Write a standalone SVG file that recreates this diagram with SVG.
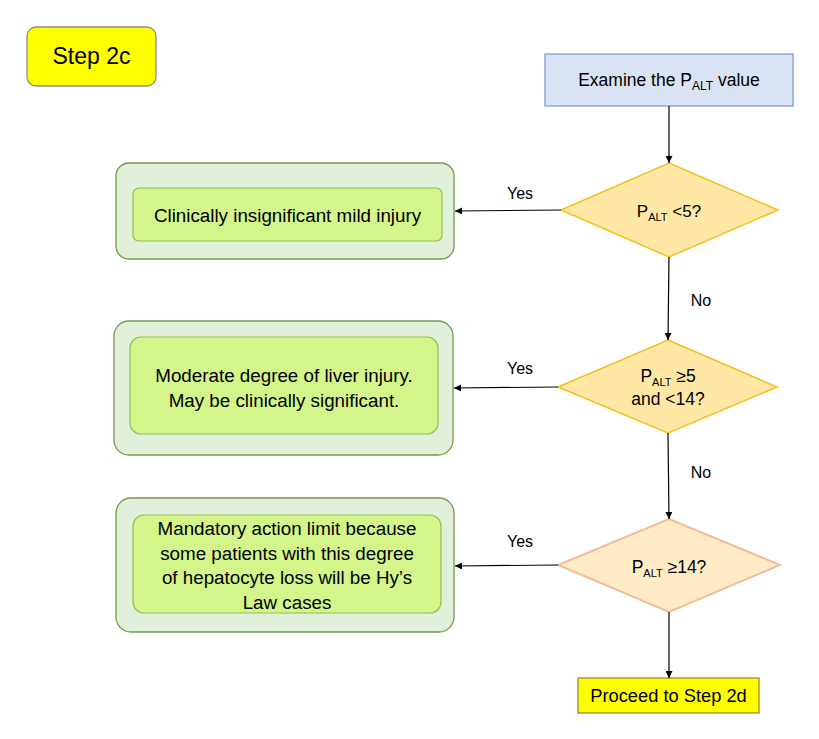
<svg xmlns="http://www.w3.org/2000/svg" width="819" height="739" viewBox="0 0 819 739">
<style>
text{font-family:"Liberation Sans",Arial,sans-serif;font-size:16px;fill:#000}
.c{text-anchor:middle}
.g{font-size:18.8px}
.sub{font-size:11px}
.outer{fill:#E2EFDA;stroke:#6E9E4A;stroke-width:1.3}
.inner{fill:#D3F58A;stroke:#8CC152;stroke-width:1.2}
.dia{fill:#FFE8A6;stroke:#F5BE1E;stroke-width:1.5}
.dia3{fill:#FFEBC6;stroke:#F4BB98;stroke-width:2}
.ln{stroke:#000;stroke-width:1.2;fill:none;marker-end:url(#ah)}
</style>
<defs>
<marker id="ah" viewBox="0 0 10 10" refX="10" refY="5" markerWidth="7" markerHeight="7" markerUnits="userSpaceOnUse" orient="auto"><path d="M0,0 L10,5 L0,10 z" fill="#000"/></marker>
</defs>
<rect width="819" height="739" fill="#fff"/>
<g id="step2c"><rect x="27" y="27" width="129" height="59" rx="9" fill="#FFFF00" stroke="#8C8C8C" stroke-width="1.3"/><text x="91.5" y="64" class="c" style="font-size:23px">Step 2c</text></g>
<g id="examine"><rect x="545" y="54" width="248" height="52" fill="#DAE3F3" stroke="#7F9BCB" stroke-width="1.3"/><text x="669" y="86" class="c" style="font-size:17.5px">Examine the P<tspan style="font-size:12px" dy="4">ALT</tspan><tspan dy="-4"> value</tspan></text></g>
<g id="d1"><polygon class="dia" points="669,163 778,210 669,257 561,210"/><text x="669" y="217" class="c" style="font-size:17px">P<tspan class="sub" dy="4">ALT</tspan><tspan dy="-4"> &lt;5?</tspan></text></g>
<g id="d2"><polygon class="dia" points="668,340 777,387 668,433 558,387"/><text x="668" y="382" class="c" style="font-size:17.5px">P<tspan class="sub" dy="4">ALT</tspan><tspan dy="-4"> ≥5</tspan></text><text x="668" y="405" class="c" style="font-size:17.5px">and &lt;14?</text></g>
<g id="d3"><polygon class="dia3" points="669,519 780,565 669,612 558,565"/><text x="669" y="573" class="c" style="font-size:17.5px">P<tspan class="sub" dy="4">ALT</tspan><tspan dy="-4"> ≥14?</tspan></text></g>
<g id="r1"><rect class="outer" x="116" y="163" width="338" height="96" rx="13"/><rect class="inner" x="133" y="188" width="309" height="53" rx="6"/><text x="287.5" y="221.5" class="c g">Clinically insignificant mild injury</text></g>
<g id="r2"><rect class="outer" x="114" y="321" width="339" height="134" rx="15"/><rect class="inner" x="130" y="337" width="308" height="97" rx="11"/><text x="284" y="382" class="c g">Moderate degree of liver injury.</text><text x="284" y="407" class="c g">May be clinically significant.</text></g>
<g id="r3"><rect class="outer" x="116" y="498" width="338" height="134" rx="15"/><rect class="inner" x="133" y="515" width="308" height="98" rx="11"/><text x="287" y="535" class="c g">Mandatory action limit because</text><text x="287" y="559.5" class="c g">some patients with this degree</text><text x="287" y="584" class="c g">of hepatocyte loss will be Hy’s</text><text x="287" y="608.5" class="c g">Law cases</text></g>
<g id="proceed"><rect x="578" y="678" width="181" height="35" fill="#FFFF00" stroke="#A6892A" stroke-width="1.3"/><text x="668.5" y="702" class="c" style="font-size:18.3px">Proceed to Step 2d</text></g>
<g id="connectors">
<line class="ln" x1="669" y1="106" x2="669" y2="163"/>
<line class="ln" x1="669" y1="257" x2="668" y2="340"/>
<line class="ln" x1="668" y1="433" x2="669" y2="519"/>
<line class="ln" x1="669" y1="612" x2="669" y2="678"/>
<line class="ln" x1="561" y1="210" x2="455" y2="211"/>
<line class="ln" x1="558" y1="387" x2="454" y2="388"/>
<line class="ln" x1="558" y1="565" x2="455" y2="566"/>
<text x="520" y="199" class="c">Yes</text>
<text x="520" y="374" class="c">Yes</text>
<text x="520" y="547" class="c">Yes</text>
<text x="701" y="306" class="c">No</text>
<text x="701" y="478" class="c">No</text>
</g>
</svg>
